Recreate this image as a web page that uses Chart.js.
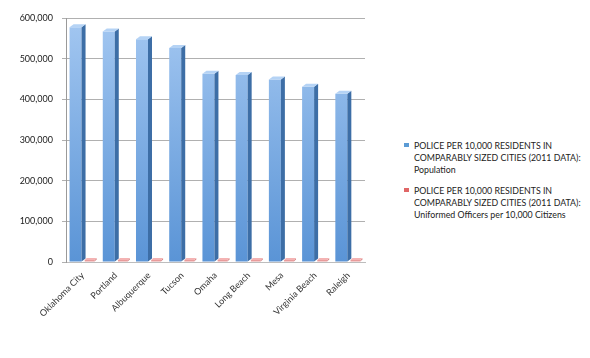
<!DOCTYPE html>
<html>
<head>
<meta charset="utf-8">
<script src="https://cdn.jsdelivr.net/npm/chart.js@4/dist/chart.umd.min.js"></script>
<style>
  html, body { margin: 0; padding: 0; background: #fff; }
  #wrap { position: relative; width: 590px; height: 358px; }
  #cbox { position: absolute; left: 0; top: 0; width: 370px; height: 358px; }
  #legend { position: absolute; left: 404px; top: 140px; font-family: Lato, "Liberation Sans", sans-serif; font-size: 8.8px; color: #222; line-height: 12.2px; }
  .item { position: relative; padding-left: 10px; margin-bottom: 8px; white-space: nowrap; }
  .sw { position: absolute; left: 0; top: 3px; width: 5px; height: 4px; }
</style>
</head>
<body>
<div id="wrap">
  <div id="cbox"><canvas id="c"></canvas></div>
  <div id="legend"></div>
</div>
<script>
const categories = ["Oklahoma City", "Portland", "Albuquerque", "Tucson", "Omaha", "Long Beach", "Mesa", "Virginia Beach", "Raleigh"];
const population = [577000, 567000, 548000, 526000, 463000, 460000, 449000, 431000, 414000];
const officersPer10k = [17.9, 17.4, 19.5, 18.2, 19.1, 19.0, 17.2, 18.3, 19.2];
const seriesNames = [
  ["POLICE PER 10,000 RESIDENTS IN", "COMPARABLY SIZED CITIES (2011 DATA):", "Population"],
  ["POLICE PER 10,000 RESIDENTS IN", "COMPARABLY SIZED CITIES (2011 DATA):", "Uniformed Officers per 10,000 Citizens"]
];
const yTicks = [0, 100000, 200000, 300000, 400000, 500000, 600000];

const blueSide = "#3d6ea6", blueTop = "#b5d3f5";
const redSide = "#d88a8a";

function blueGrad(ctx) {
  const ch = ctx.chart; const a = ch.chartArea;
  if (!a) return "#5b9bd5";
  const g = ch.ctx.createLinearGradient(0, a.top, 0, a.bottom);
  g.addColorStop(0, "#a3c7f1");
  g.addColorStop(1, "#5a94d6");
  return g;
}

const bar3d = {
  id: "bar3d",
  afterDatasetsDraw(chart) {
    const ctx = chart.ctx;
    chart.data.datasets.forEach((ds, i) => {
      const d = i === 0 ? 4 : 2, dy = i === 0 ? 3 : 2;
      const meta = chart.getDatasetMeta(i);
      meta.data.forEach(b => {
        const l = b.x - b.width / 2, r = b.x + b.width / 2, t = b.y, bt = b.base;
        ctx.save();
        ctx.fillStyle = i === 0 ? blueSide : redSide;
        ctx.beginPath();
        ctx.moveTo(r, t); ctx.lineTo(r + d, t - dy); ctx.lineTo(r + d, bt - dy); ctx.lineTo(r, bt); ctx.closePath();
        ctx.fill();
        ctx.fillStyle = i === 0 ? blueTop : "#f4b3b3";
        ctx.beginPath();
        ctx.moveTo(l, t); ctx.lineTo(l + d, t - dy); ctx.lineTo(r + d, t - dy); ctx.lineTo(r, t); ctx.closePath();
        ctx.fill();
        ctx.restore();
      });
    });
  }
};

new Chart(document.getElementById("c"), {
  type: "bar",
  data: {
    labels: categories,
    datasets: [
      { label: seriesNames[0].join(" "), data: population, backgroundColor: blueGrad, barPercentage: 0.85, categoryPercentage: 0.85 },
      { label: seriesNames[1].join(" "), data: officersPer10k, backgroundColor: "#e89a9a", minBarLength: 2, barPercentage: 0.7, categoryPercentage: 0.85 }
    ]
  },
  options: {
    responsive: true,
    maintainAspectRatio: false,
    animation: false,
    layout: { padding: { top: 18, right: 5, left: 0, bottom: 0 } },
    plugins: { legend: { display: false }, tooltip: { enabled: false } },
    scales: {
      x: {
        grid: { display: false, drawTicks: false },
        border: { color: "#bdbdbd" },
        ticks: { maxRotation: 45, minRotation: 45, color: "#333", font: { family: "Lato", size: 9 }, padding: 8 },
        afterFit(s) { s.height = 96; }
      },
      y: {
        min: 0, max: 600000,
        afterBuildTicks(s) { s.ticks = yTicks.map(v => ({ value: v })); },
        grid: { color: "#b0b0b0", tickLength: 4, drawTicks: true },
        border: { color: "#9a9a9a" },
        ticks: { color: "#222", font: { family: "Lato", size: 9 }, padding: 9,
          callback: v => v.toLocaleString("en-US") },
        afterFit(s) { s.width = 66; }
      }
    }
  },
  plugins: [bar3d]
});

const legend = document.getElementById("legend");
const swatch = ["#5b9bd5", "#e06666"];
seriesNames.forEach((lines, i) => {
  const it = document.createElement("div");
  it.className = "item";
  const sw = document.createElement("span");
  sw.className = "sw"; sw.style.background = swatch[i];
  it.appendChild(sw);
  lines.forEach(t => { const d = document.createElement("div"); d.textContent = t; it.appendChild(d); });
  legend.appendChild(it);
});
</script>
</body>
</html>
